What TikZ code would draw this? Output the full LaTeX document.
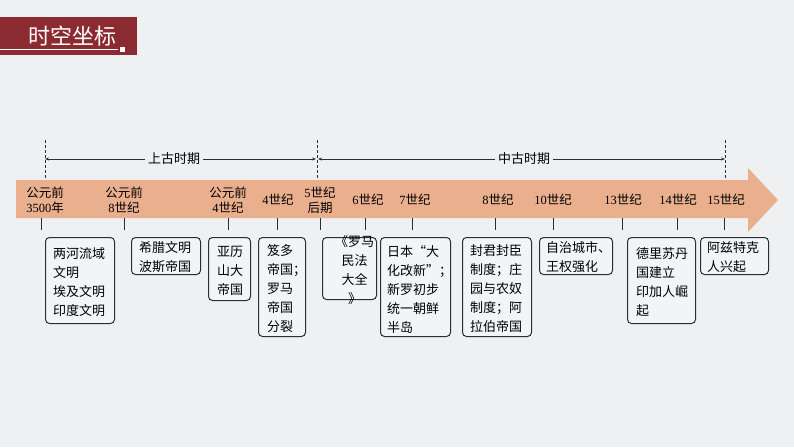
\documentclass[tikz,border=0pt]{standalone}
\usepackage{fontspec}
\setmainfont{Liberation Serif}
\newfontfamily\cjk{Noto Sans CJK SC}
\usetikzlibrary{arrows.meta}
\newcommand\numr[1]{{\rmfamily #1}}
\definecolor{bgc}{HTML}{EFF0F2}
\definecolor{boxc}{HTML}{F3F4F6}
\definecolor{bandc}{HTML}{EAB08E}
\definecolor{titlec}{HTML}{8B2B31}
\definecolor{linec}{HTML}{2E2E2E}
\begin{document}
\begin{tikzpicture}[x=1pt,y=-1pt,
  titletxt/.style={text=white,font=\cjk\fontsize{22}{26}\selectfont,inner sep=0pt},
  bandlbl/.style={font=\cjk\fontsize{12.5}{15}\selectfont,align=center,inner sep=0pt,text=black},
  perlbl/.style={font=\cjk\fontsize{13}{15}\selectfont,fill=bgc,inner sep=3pt},
  perline/.style={linec,line width=0.8pt,-{Stealth[length=4pt,width=3pt]}},
  dashline/.style={linec,line width=0.9pt,dash pattern=on 3pt off 2pt},
  tickline/.style={linec,line width=1pt},
  evbox/.style={draw=linec,fill=boxc,line width=1pt,rounded corners=4pt,anchor=north west,inner sep=0pt},
  evtxt/.style={font=\cjk\fontsize{13}{19}\selectfont,align=left,inner sep=0pt,anchor=west},
  evtxtc/.style={font=\cjk\fontsize{13}{19}\selectfont,align=center,inner sep=0pt}
]
\fill[bgc] (0,0) rectangle (794,447);
\useasboundingbox (0,0) rectangle (794,447);

% title
\fill[titlec] (0,17) rectangle (137,55);
\node[titletxt] (title) at (72,36) {时空坐标};
\draw[white,line width=0.6pt] (0,49.5) -- (118,49.5);
\fill[white] (120,47) rectangle (125,52);

% band arrow
\fill[bandc] (16,180) -- (748,180) -- (748,168) -- (778,200) -- (748,232) -- (748,218) -- (16,218) -- cycle;

% dashed boundaries
\coordinate (d1a) at (45,140); \coordinate (d1b) at (45,180);
\coordinate (d2a) at (317,140); \coordinate (d2b) at (317,180);
\coordinate (d3a) at (725,140); \coordinate (d3b) at (725,180);
\draw[dashline] (d1a) -- (d1b);
\draw[dashline] (d2a) -- (d2b);
\draw[dashline] (d3a) -- (d3b);

% periods
\coordinate (p1l) at (45,159); \coordinate (p1r) at (316,159);
\coordinate (p2l) at (318,159); \coordinate (p2r) at (725,159);
\node[perlbl] (p1) at (174,159) {上古时期};
\node[perlbl] (p2) at (524,159) {中古时期};
\draw[perline] (p1.west) -- (p1l);
\draw[perline] (p1.east) -- (p1r);
\draw[perline] (p2.west) -- (p2l);
\draw[perline] (p2.east) -- (p2r);

% band labels
\node[bandlbl] (l1) at (45,200.5) {公元前\\\numr{3500}年};
\node[bandlbl] (l2) at (124,200.5) {公元前\\\numr{8}世纪};
\node[bandlbl] (l3) at (228,200.5) {公元前\\\numr{4}世纪};
\node[bandlbl] (l4) at (278,200) {\numr{4}世纪};
\node[bandlbl] (l5) at (320,200.5) {\numr{5}世纪\\后期};
\node[bandlbl] (l6) at (368,200) {\numr{6}世纪};
\node[bandlbl] (l7) at (415,200) {\numr{7}世纪};
\node[bandlbl] (l8) at (498,200) {\numr{8}世纪};
\node[bandlbl] (l9) at (553,200) {\numr{10}世纪};
\node[bandlbl] (l10) at (623,200) {\numr{13}世纪};
\node[bandlbl] (l11) at (678,200) {\numr{14}世纪};
\node[bandlbl] (l12) at (726,200) {\numr{15}世纪};

% ticks
\foreach \x [count=\i] in {41,124,228,277,320,365,412,495,553,622,677,724}{
  \coordinate (ta\i) at (\x,218);
  \coordinate (tb\i) at (\x,229.5);
  \draw[tickline] (ta\i) -- (tb\i);
}

% boxes
\node[evbox,minimum width=69pt,minimum height=86pt] (b1) at (45,237) {};
\node[evbox,minimum width=69pt,minimum height=37pt] (b2) at (131,237) {};
\node[evbox,minimum width=42pt,minimum height=63pt] (b3) at (208,237) {};
\node[evbox,minimum width=47pt,minimum height=99pt] (b4) at (258,237) {};
\node[evbox,minimum width=54pt,minimum height=62pt] (b5) at (322,237) {};
\node[evbox,minimum width=70pt,minimum height=99pt] (b6) at (380,237) {};
\node[evbox,minimum width=69pt,minimum height=99pt] (b7) at (462,237) {};
\node[evbox,minimum width=73pt,minimum height=37pt] (b8) at (539,237) {};
\node[evbox,minimum width=68pt,minimum height=86pt] (b9) at (627,237) {};
\node[evbox,minimum width=68pt,minimum height=37pt] (b10) at (700,237) {};

\node[evtxt] (e1) at ([xshift=8pt,yshift=-1.5pt]b1.west) {两河流域\\文明\\埃及文明\\印度文明};
\node[evtxt] (e2) at ([xshift=8pt,yshift=-1pt]b2.west) {希腊文明\\波斯帝国};
\node[evtxt] (e3) at ([xshift=9pt,yshift=-1.5pt]b3.west) {亚历\\山大\\帝国};
\node[evtxt] (e4) at ([xshift=9pt,yshift=-2pt]b4.west) {笈多\\帝国；\\罗马\\帝国\\分裂};
\node[evtxtc] (e5) at ([xshift=5pt,yshift=-1.5pt]b5.center) {《罗马\\民法\\大全\\》};
\node[evtxt] (e6) at ([xshift=7pt,yshift=-2pt]b6.west) {日本“大\\化改新”；\\新罗初步\\统一朝鲜\\半岛};
\node[evtxt] (e7) at ([xshift=8pt,yshift=-2pt]b7.west) {封君封臣\\制度；庄\\园与农奴\\制度；阿\\拉伯帝国};
\node[evtxt] (e8) at ([xshift=7pt,yshift=-1pt]b8.west) {自治城市、\\王权强化};
\node[evtxt] (e9) at ([xshift=9pt,yshift=-1.5pt]b9.west) {德里苏丹\\国建立\\印加人崛\\起};
\node[evtxt] (e10) at ([xshift=7pt,yshift=-1pt]b10.west) {阿兹特克\\人兴起};
\end{tikzpicture}
\end{document}
